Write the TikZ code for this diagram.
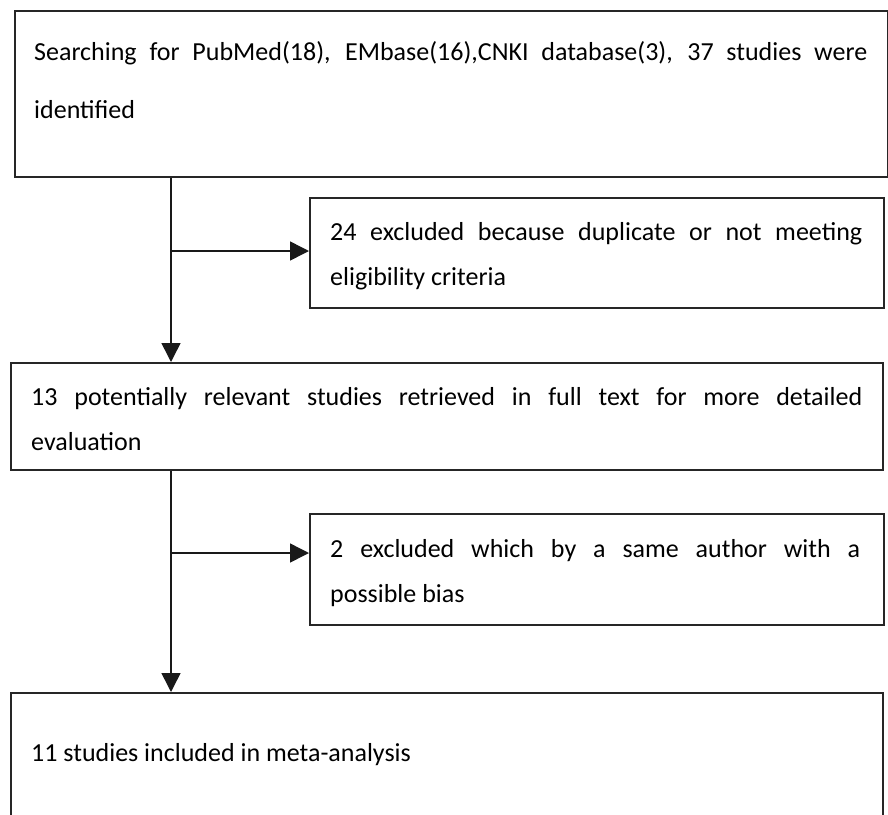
\documentclass[tikz,border=0pt]{standalone}
\usepackage{fontspec}
\setmainfont{Carlito}
\usetikzlibrary{arrows.meta}
\tikzset{
  box/.style={draw=black!85, line width=1.5pt, inner sep=0pt, anchor=north west},
  txt/.style={inner sep=0pt, anchor=base west, font=\fontsize{26}{45}\selectfont},
  arr/.style={line width=1.5pt, draw=black!90, -{Triangle[length=19pt,width=19pt]}}
}
\begin{document}
\begin{tikzpicture}[x=1pt,y=-1pt]
\useasboundingbox (0,0) rectangle (888,814);
\clip (0,0) rectangle (888,814);
% boxes
\node[box, minimum width=873pt, minimum height=166pt] (b1) at (14,10) {};
\node[box, minimum width=574pt, minimum height=110pt] (ex1) at (309,197) {};
\node[box, minimum width=872pt, minimum height=107pt] (b2) at (10,362) {};
\node[box, minimum width=574pt, minimum height=111pt] (ex2) at (309,513) {};
\node[box, minimum width=872pt, minimum height=140pt] (b3) at (10,692) {};
% texts
\node[txt, font=\fontsize{26}{58}\selectfont] (t1) at (34,60) {\vtop{\hbox{\makebox[833pt][s]{Searching for PubMed(18), EMbase(16),CNKI database(3), 37 studies were}}\hbox{identified}}};
\node[txt] (t2) at (330,240) {\vtop{\hbox{\makebox[532pt][s]{24 excluded because duplicate or not meeting}}\hbox{eligibility criteria}}};
\node[txt] (t3) at (31,405) {\vtop{\hbox{\makebox[831pt][s]{13 potentially relevant studies retrieved in full text for more detailed}}\hbox{evaluation}}};
\node[txt] (t4) at (330,557) {\vtop{\hbox{\makebox[530pt][s]{2 excluded which by a same author with a}}\hbox{possible bias}}};
\node[txt] (t5) at (31,761) {11 studies included in meta-analysis};
% connectors
\coordinate (c1) at (171,251);
\coordinate (c2) at (171,553);
\draw[arr] (b1.south west -| c1) -- (b2.north west -| c1);
\draw[arr] (c1) -- (c1 -| ex1.west);
\draw[arr] (b2.south west -| c2) -- (b3.north west -| c2);
\draw[arr] (c2) -- (c2 -| ex2.west);
\end{tikzpicture}
\end{document}
